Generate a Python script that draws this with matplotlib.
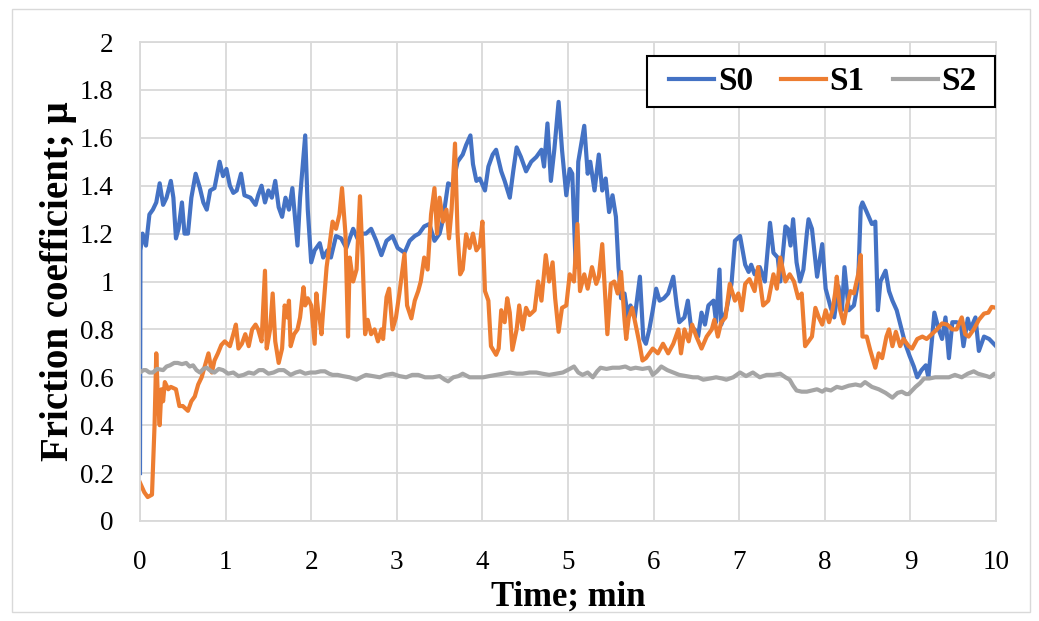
import numpy as np
import matplotlib
matplotlib.use("Agg")
import matplotlib.pyplot as plt
from matplotlib.patches import Rectangle

plt.rcParams["font.family"] = ["Liberation Serif", "DejaVu Serif"]

# S0 - синяя кривая
t_s0 = [0.00, 0.005, 0.03, 0.07, 0.11, 0.15, 0.19, 0.23, 0.27, 0.31, 0.36, 0.39, 0.42, 0.45, 0.49,
        0.52, 0.56, 0.60, 0.65, 0.70, 0.74, 0.78, 0.82, 0.87, 0.93, 0.97, 1.01, 1.05, 1.09, 1.13,
        1.18, 1.22, 1.29, 1.35, 1.38, 1.42, 1.46, 1.50, 1.54, 1.58, 1.62, 1.66, 1.70, 1.74, 1.78,
        1.84, 1.87, 1.93, 1.96, 2.00, 2.04, 2.10, 2.14, 2.19, 2.23, 2.29, 2.35, 2.41, 2.49, 2.54,
        2.60, 2.64, 2.70, 2.76, 2.82, 2.88, 2.95, 3.01, 3.09, 3.15, 3.21, 3.26, 3.32, 3.38, 3.44,
        3.50, 3.54, 3.60, 3.65, 3.71, 3.77, 3.81, 3.86, 3.89, 3.93, 3.97, 4.03, 4.07, 4.12, 4.16,
        4.22, 4.26, 4.32, 4.36, 4.40, 4.45, 4.51, 4.57, 4.63, 4.69, 4.72, 4.76, 4.80, 4.84, 4.89,
        4.93, 4.98, 5.02, 5.05, 5.09, 5.12, 5.19, 5.23, 5.26, 5.31, 5.36, 5.40, 5.44, 5.48, 5.52,
        5.56, 5.59, 5.62, 5.66, 5.70, 5.73, 5.78, 5.84, 5.88, 5.91, 5.95, 5.99, 6.03, 6.07, 6.12,
        6.17, 6.23, 6.27, 6.30, 6.36, 6.40, 6.44, 6.48, 6.52, 6.56, 6.60, 6.64, 6.70, 6.73, 6.77,
        6.79, 6.85, 6.91, 6.95, 7.01, 7.07, 7.11, 7.14, 7.18, 7.24, 7.30, 7.36, 7.40, 7.45, 7.48,
        7.54, 7.57, 7.60, 7.63, 7.67, 7.71, 7.75, 7.79, 7.81, 7.85, 7.91, 7.97, 8.01, 8.07, 8.11,
        8.16, 8.20, 8.23, 8.28, 8.34, 8.39, 8.42, 8.44, 8.49, 8.55, 8.59, 8.62, 8.65, 8.71, 8.75,
        8.79, 8.84, 8.89, 8.94, 8.99, 9.04, 9.08, 9.13, 9.18, 9.21, 9.25, 9.28, 9.33, 9.37, 9.41,
        9.45, 9.49, 9.54, 9.59, 9.62, 9.67, 9.70, 9.76, 9.80, 9.86, 9.92, 10.0]
s0 = [0.20, 1.13, 1.20, 1.15, 1.28, 1.30, 1.33, 1.41, 1.32, 1.35, 1.42, 1.35, 1.18, 1.22, 1.33,
      1.20, 1.20, 1.35, 1.45, 1.39, 1.33, 1.30, 1.38, 1.39, 1.50, 1.44, 1.47, 1.40, 1.37, 1.38,
      1.45, 1.36, 1.35, 1.32, 1.36, 1.40, 1.33, 1.38, 1.35, 1.42, 1.31, 1.27, 1.35, 1.30, 1.39,
      1.15, 1.35, 1.61, 1.30, 1.08, 1.13, 1.16, 1.10, 1.13, 1.10, 1.19, 1.18, 1.14, 1.22, 1.18,
      1.20, 1.20, 1.22, 1.17, 1.11, 1.17, 1.19, 1.14, 1.12, 1.17, 1.19, 1.20, 1.23, 1.24, 1.17,
      1.20, 1.26, 1.41, 1.40, 1.50, 1.53, 1.57, 1.61, 1.49, 1.42, 1.43, 1.38, 1.48, 1.53, 1.55,
      1.46, 1.42, 1.35, 1.46, 1.56, 1.52, 1.46, 1.50, 1.52, 1.55, 1.48, 1.66, 1.42, 1.55, 1.75,
      1.55, 1.36, 1.47, 1.45, 1.06, 1.50, 1.65, 1.45, 1.50, 1.38, 1.53, 1.38, 1.43, 1.29, 1.36,
      1.27, 1.06, 0.93, 0.95, 0.85, 0.90, 0.85, 1.02, 0.76, 0.74, 0.80, 0.88, 0.97, 0.92, 0.93,
      0.95, 1.02, 0.90, 0.83, 0.85, 0.92, 0.80, 0.80, 0.77, 0.87, 0.82, 0.90, 0.92, 0.83, 1.05,
      0.82, 0.88, 0.99, 1.17, 1.19, 1.07, 1.04, 1.07, 1.03, 1.06, 1.00, 1.245, 1.12, 1.10, 1.00,
      1.23, 1.22, 1.15, 1.26, 1.08, 1.00, 1.05, 1.20, 1.26, 1.22, 1.02, 1.156, 0.97, 0.89, 0.85,
      0.98, 0.88, 1.06, 0.88, 0.90, 1.00, 1.31, 1.33, 1.29, 1.24, 1.25, 0.88, 1.00, 1.045, 0.96,
      0.92, 0.88, 0.81, 0.74, 0.69, 0.645, 0.60, 0.63, 0.65, 0.60, 0.75, 0.87, 0.80, 0.76, 0.85,
      0.68, 0.83, 0.83, 0.82, 0.73, 0.845, 0.80, 0.85, 0.71, 0.77, 0.76, 0.73]

# S1 - оранжевая кривая
t_s1 = [0.00, 0.05, 0.09, 0.14, 0.17, 0.19, 0.21, 0.23, 0.25, 0.27, 0.29, 0.33, 0.36, 0.42, 0.46,
        0.50, 0.56, 0.60, 0.64, 0.68, 0.72, 0.76, 0.80, 0.84, 0.87, 0.91, 0.95, 0.99, 1.05, 1.09,
        1.12, 1.15, 1.19, 1.23, 1.27, 1.31, 1.35, 1.38, 1.42, 1.46, 1.48, 1.52, 1.55, 1.58, 1.62,
        1.66, 1.69, 1.72, 1.74, 1.76, 1.80, 1.84, 1.87, 1.91, 1.93, 1.96, 2.00, 2.04, 2.06, 2.08,
        2.10, 2.12, 2.14, 2.18, 2.21, 2.25, 2.29, 2.33, 2.36, 2.40, 2.43, 2.45, 2.49, 2.53, 2.57,
        2.60, 2.63, 2.66, 2.70, 2.74, 2.78, 2.82, 2.84, 2.88, 2.91, 2.95, 2.99, 3.03, 3.09, 3.12,
        3.17, 3.21, 3.25, 3.28, 3.32, 3.36, 3.40, 3.44, 3.47, 3.50, 3.54, 3.58, 3.61, 3.64, 3.68,
        3.71, 3.74, 3.77, 3.81, 3.85, 3.89, 3.93, 3.97, 4.00, 4.03, 4.07, 4.10, 4.16, 4.19, 4.22,
        4.26, 4.29, 4.32, 4.35, 4.40, 4.43, 4.47, 4.51, 4.55, 4.61, 4.65, 4.69, 4.74, 4.78, 4.82,
        4.85, 4.89, 4.93, 4.98, 5.02, 5.07, 5.11, 5.14, 5.19, 5.23, 5.28, 5.33, 5.36, 5.40, 5.44,
        5.46, 5.50, 5.54, 5.58, 5.62, 5.66, 5.68, 5.71, 5.75, 5.79, 5.83, 5.87, 5.91, 5.95, 5.99,
        6.05, 6.11, 6.17, 6.23, 6.29, 6.32, 6.36, 6.41, 6.45, 6.50, 6.56, 6.62, 6.68, 6.71, 6.75,
        6.79, 6.84, 6.89, 6.95, 6.99, 7.03, 7.07, 7.12, 7.18, 7.22, 7.28, 7.34, 7.40, 7.44, 7.48,
        7.54, 7.59, 7.64, 7.69, 7.73, 7.77, 7.81, 7.85, 7.89, 7.93, 7.97, 8.01, 8.05, 8.09, 8.12,
        8.14, 8.18, 8.22, 8.26, 8.30, 8.34, 8.39, 8.42, 8.44, 8.49, 8.53, 8.59, 8.63, 8.67, 8.72,
        8.75, 8.79, 8.83, 8.88, 8.92, 8.98, 9.02, 9.08, 9.14, 9.19, 9.25, 9.31, 9.37, 9.43, 9.49,
        9.54, 9.60, 9.64, 9.68, 9.74, 9.80, 9.86, 9.91, 9.95, 10.0]
s1 = [0.16, 0.12, 0.10, 0.11, 0.40, 0.70, 0.50, 0.40, 0.55, 0.50, 0.58, 0.55, 0.56, 0.55, 0.48,
      0.48, 0.46, 0.50, 0.52, 0.57, 0.60, 0.65, 0.70, 0.62, 0.67, 0.70, 0.735, 0.75, 0.73, 0.78,
      0.82, 0.72, 0.74, 0.78, 0.73, 0.80, 0.82, 0.80, 0.75, 1.045, 0.72, 0.80, 0.95, 0.75, 0.66,
      0.72, 0.90, 0.85, 0.92, 0.73, 0.78, 0.80, 0.85, 0.976, 0.90, 0.93, 0.90, 0.74, 0.95, 0.88,
      0.84, 0.78, 0.88, 1.06, 1.14, 1.25, 1.22, 1.28, 1.39, 1.20, 0.77, 1.10, 1.00, 1.05, 1.356,
      1.10, 0.78, 0.84, 0.78, 0.80, 0.75, 0.80, 0.76, 0.935, 0.97, 0.80, 0.85, 0.95, 1.115, 0.90,
      0.846, 0.92, 0.96, 1.00, 1.10, 1.05, 1.28, 1.39, 1.20, 1.35, 1.25, 1.30, 1.18, 1.30, 1.576,
      1.20, 1.03, 1.05, 1.197, 1.14, 1.20, 1.13, 1.15, 1.25, 0.96, 0.92, 0.73, 0.694, 0.72, 0.88,
      0.83, 0.93, 0.87, 0.715, 0.80, 0.90, 0.80, 0.89, 0.86, 0.88, 1.00, 0.92, 1.11, 1.00, 1.08,
      0.93, 0.79, 0.89, 0.90, 1.03, 1.00, 1.24, 0.96, 1.03, 0.97, 1.06, 0.99, 1.02, 1.156, 0.90,
      0.78, 0.99, 1.00, 0.95, 1.04, 0.84, 0.76, 0.85, 0.89, 0.82, 0.75, 0.67, 0.68, 0.70, 0.72,
      0.70, 0.74, 0.70, 0.74, 0.80, 0.70, 0.80, 0.75, 0.82, 0.77, 0.72, 0.77, 0.80, 0.84, 0.77,
      0.83, 0.85, 0.99, 0.92, 0.95, 0.88, 0.99, 1.01, 0.96, 1.06, 0.90, 0.92, 1.03, 0.97, 1.10,
      1.00, 1.03, 1.00, 0.93, 0.95, 0.73, 0.75, 0.77, 0.89, 0.85, 0.82, 0.88, 0.83, 0.88, 0.95,
      1.02, 0.88, 0.825, 0.90, 0.96, 0.95, 1.03, 1.11, 0.77, 0.77, 0.714, 0.64, 0.70, 0.68, 0.77,
      0.80, 0.73, 0.79, 0.73, 0.76, 0.73, 0.72, 0.76, 0.77, 0.76, 0.78, 0.80, 0.825, 0.82, 0.80,
      0.80, 0.85, 0.78, 0.77, 0.80, 0.84, 0.866, 0.87, 0.894, 0.89]

# S2 - серая кривая
t_s2 = [0.00, 0.04, 0.07, 0.11, 0.15, 0.20, 0.27, 0.31, 0.35, 0.40, 0.44, 0.49, 0.54, 0.58, 0.62,
        0.66, 0.70, 0.74, 0.78, 0.83, 0.87, 0.92, 0.97, 1.03, 1.09, 1.15, 1.21, 1.27, 1.33, 1.39,
        1.44, 1.50, 1.56, 1.62, 1.68, 1.76, 1.82, 1.87, 1.93, 1.99, 2.05, 2.11, 2.16, 2.21, 2.25,
        2.31, 2.37, 2.45, 2.53, 2.58, 2.64, 2.72, 2.80, 2.87, 2.95, 3.03, 3.11, 3.18, 3.25, 3.33,
        3.42, 3.50, 3.56, 3.60, 3.66, 3.72, 3.77, 3.85, 3.93, 4.01, 4.08, 4.16, 4.24, 4.32, 4.40,
        4.47, 4.55, 4.63, 4.70, 4.78, 4.86, 4.94, 5.02, 5.07, 5.12, 5.17, 5.23, 5.29, 5.34, 5.38,
        5.45, 5.52, 5.60, 5.67, 5.73, 5.79, 5.87, 5.95, 5.99, 6.04, 6.09, 6.16, 6.23, 6.30, 6.38,
        6.46, 6.52, 6.58, 6.66, 6.73, 6.80, 6.85, 6.93, 7.01, 7.08, 7.16, 7.24, 7.32, 7.40, 7.48,
        7.54, 7.59, 7.63, 7.67, 7.73, 7.79, 7.85, 7.91, 7.97, 8.01, 8.07, 8.14, 8.20, 8.28, 8.36,
        8.42, 8.47, 8.55, 8.63, 8.71, 8.79, 8.85, 8.90, 8.95, 8.98, 9.02, 9.06, 9.11, 9.16, 9.22,
        9.29, 9.36, 9.45, 9.52, 9.60, 9.67, 9.74, 9.79, 9.84, 9.89, 9.93, 9.98, 10.0]
s2 = [0.62, 0.63, 0.63, 0.62, 0.62, 0.635, 0.63, 0.645, 0.65, 0.66, 0.66, 0.655, 0.66, 0.645, 0.65,
      0.63, 0.62, 0.635, 0.64, 0.625, 0.62, 0.635, 0.63, 0.615, 0.62, 0.605, 0.61, 0.62, 0.615, 0.63,
      0.63, 0.615, 0.62, 0.63, 0.63, 0.61, 0.62, 0.625, 0.615, 0.62, 0.62, 0.625, 0.625, 0.615, 0.61,
      0.61, 0.605, 0.60, 0.59, 0.60, 0.61, 0.605, 0.60, 0.61, 0.615, 0.605, 0.60, 0.61, 0.61, 0.60,
      0.60, 0.605, 0.59, 0.583, 0.60, 0.605, 0.615, 0.60, 0.60, 0.60, 0.605, 0.61, 0.615, 0.62, 0.615,
      0.615, 0.62, 0.62, 0.615, 0.61, 0.615, 0.62, 0.635, 0.645, 0.62, 0.61, 0.62, 0.60, 0.625, 0.64,
      0.635, 0.64, 0.64, 0.645, 0.635, 0.64, 0.635, 0.64, 0.61, 0.625, 0.645, 0.63, 0.62, 0.61, 0.605,
      0.60, 0.60, 0.59, 0.595, 0.60, 0.595, 0.59, 0.60, 0.62, 0.605, 0.62, 0.60, 0.61, 0.61, 0.615,
      0.60, 0.59, 0.565, 0.545, 0.54, 0.54, 0.545, 0.55, 0.54, 0.55, 0.545, 0.56, 0.555, 0.565, 0.57,
      0.565, 0.58, 0.56, 0.55, 0.535, 0.515, 0.535, 0.54, 0.53, 0.53, 0.545, 0.56, 0.575, 0.595, 0.595,
      0.60, 0.60, 0.60, 0.61, 0.60, 0.615, 0.625, 0.615, 0.61, 0.605, 0.60, 0.615, 0.615]

x_ticks = np.arange(0, 11, 1)
y_ticks = np.round(np.arange(0, 2.01, 0.2), 1)
y_labels = ["0", "0.2", "0.4", "0.6", "0.8", "1", "1.2", "1.4", "1.6", "1.8", "2"]

W, H = 1039, 621
fig = plt.figure(figsize=(W / 100, H / 100), dpi=100)
ax = fig.add_axes([140 / W, 1 - 521 / H, 856 / W, 479 / H])

# Рамка вокруг всей картинки
fig.patches.append(Rectangle((12 / W, 9 / H), 1018 / W, 603 / H,
                             transform=fig.transFigure, fill=False,
                             edgecolor="#D9D9D9", linewidth=1))

l0, = ax.plot(t_s0, s0, color="#4472C4", lw=3.0, label="S0", solid_joinstyle="round")
l1, = ax.plot(t_s1, s1, color="#ED7D31", lw=3.0, label="S1", solid_joinstyle="round")
l2, = ax.plot(t_s2, s2, color="#A5A5A5", lw=3.0, label="S2", solid_joinstyle="round")

ax.set_xlim(0, 10)
ax.set_ylim(0, 2)
ax.set_xticks(x_ticks)
ax.set_yticks(y_ticks)
ax.set_yticklabels(y_labels)
ax.grid(True, color="#D9D9D9", linewidth=1.3)
ax.set_axisbelow(True)
for s in ax.spines.values():
    s.set_color("#D9D9D9")
    s.set_linewidth(1.3)
ax.tick_params(axis="both", length=0, labelsize=19.5)
ax.tick_params(axis="x", pad=21)
ax.tick_params(axis="y", pad=19)

ax.set_xlabel("Time; min", fontsize=25, fontweight="bold", labelpad=4)
ax.set_ylabel("Friction coefficient; μ", fontsize=28, fontweight="bold", labelpad=2)

# Рамка легенды рисуется отдельно, сама легенда без рамки по центру
fig.patches.append(Rectangle((647 / W, 1 - 107 / H), 348 / W, 51 / H,
                             transform=fig.transFigure, facecolor="white",
                             edgecolor="black", linewidth=1.5, zorder=5))
leg = fig.legend(handles=[l0, l1, l2], loc="center",
                 bbox_to_anchor=(823 / W, 1 - 82 / H),
                 ncol=3, frameon=False, borderpad=0, borderaxespad=0,
                 handlelength=1.35, handletextpad=0.1, columnspacing=0.85,
                 prop={"weight": "bold", "size": 24})
leg.set_zorder(6)

fig.savefig("out.png", dpi=100)
